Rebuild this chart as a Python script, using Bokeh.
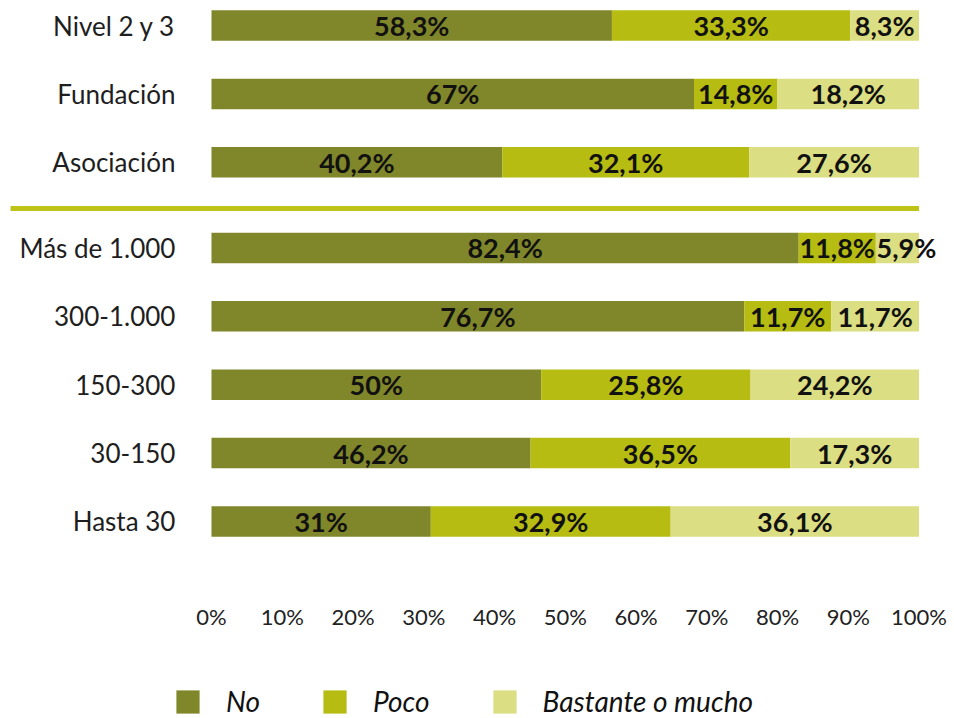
from bokeh.plotting import figure
from bokeh.layouts import column
from bokeh.models import (FactorRange, Range1d, FixedTicker, Legend, LegendItem,
                          ColumnDataSource)
from bokeh.core.properties import value
from bokeh.embed import file_html
from bokeh.resources import INLINE

# ---------------- data ----------------
group_top = ["Nivel 2 y 3", "Fundación", "Asociación"]
group_bottom = ["Más de 1.000", "300-1.000", "150-300", "30-150", "Hasta 30"]

# segment lengths as drawn in the picture (percent)
no_vals = [56.6, 68.2, 41.1, 83.0, 75.3, 46.6, 45.1, 31.0]
poco_vals = [33.7, 11.8, 34.9, 10.9, 12.3, 29.6, 36.7, 33.9]
bast_vals = [9.7, 20.0, 24.0, 6.1, 12.4, 23.8, 18.2, 35.1]

# printed labels
no_labels = ["58,3%", "67%", "40,2%", "82,4%", "76,7%", "50%", "46,2%", "31%"]
poco_labels = ["33,3%", "14,8%", "32,1%", "11,8%", "11,7%", "25,8%", "36,5%", "32,9%"]
bast_labels = ["8,3%", "18,2%", "27,6%", "5,9%", "11,7%", "24,2%", "17,3%", "36,1%"]

series_names = ["No", "Poco", "Bastante o mucho"]
tick_values = [0, 10, 20, 30, 40, 50, 60, 70, 80, 90, 100]
tick_labels = ["0%", "10%", "20%", "30%", "40%", "50%", "60%", "70%", "80%", "90%", "100%"]

# ---------------- style ----------------
colors = ["#80862a", "#b6bc12", "#dbde82"]
sep_color = "#bec318"
FONT = "Lato"
GROUP_GAP = 0.251
BAR_H = 0.446
LABEL_X = -5.1
SEP_X0 = -28.4
BAST_NUDGE_PX = [0, 0, 0, 9, 0, 0, 0, 0]   # keeps the narrow "5,9%" clear of "11,8%"

cats = [("a", c) for c in group_top] + [("b", c) for c in group_bottom]
names = group_top + group_bottom
factors = [("b", c) for c in reversed(group_bottom)] + [("a", c) for c in reversed(group_top)]

y_range = FactorRange(factors=factors, group_padding=GROUP_GAP, factor_padding=0.0,
                      range_padding=-0.1345, range_padding_units="absolute")

p = figure(frame_width=954, frame_height=546, y_range=y_range,
           x_range=Range1d(-29.82, 105.02), output_backend="svg",
           toolbar_location=None, min_border_left=0, min_border_right=0,
           min_border_top=0, min_border_bottom=104, outline_line_color=None)
p.grid.visible = False
p.yaxis.visible = False

left_poco = [a for a in no_vals]
left_bast = [a + b for a, b in zip(no_vals, poco_vals)]
right_bast = [a + b + c for a, b, c in zip(no_vals, poco_vals, bast_vals)]

src = ColumnDataSource(dict(
    y=cats, name=names,
    no_l=[0] * len(cats), no_r=no_vals,
    po_l=left_poco, po_r=left_bast,
    ba_l=left_bast, ba_r=right_bast,
    no_c=[v / 2 for v in no_vals],
    po_c=[l + v / 2 for l, v in zip(left_poco, poco_vals)],
    ba_c=[l + v / 2 for l, v in zip(left_bast, bast_vals)],
    no_t=no_labels, po_t=poco_labels, ba_t=bast_labels,
    no_dx=[0] * len(cats), po_dx=[0] * len(cats), ba_dx=BAST_NUDGE_PX,
    lab_x=[LABEL_X] * len(cats),
))

r_no = p.hbar(y="y", left="no_l", right="no_r", height=BAR_H, source=src,
              fill_color=colors[0], line_color=None)
r_po = p.hbar(y="y", left="po_l", right="po_r", height=BAR_H, source=src,
              fill_color=colors[1], line_color=None)
r_ba = p.hbar(y="y", left="ba_l", right="ba_r", height=BAR_H, source=src,
              fill_color=colors[2], line_color=None)

for xc, tc, dx in (("no_c", "no_t", "no_dx"), ("po_c", "po_t", "po_dx"),
                   ("ba_c", "ba_t", "ba_dx")):
    p.text(x=xc, y="y", text=tc, x_offset=dx, source=src, text_align="center",
           text_baseline="middle", text_font=value(FONT), text_font_style="bold",
           text_font_size="27px", text_color="#111111")

p.text(x="lab_x", y="y", text="name", source=src, text_align="right",
       text_baseline="middle", text_font=value(FONT), text_font_size="26px",
       text_color="#1e1e1e")

sep_y = len(group_bottom) + GROUP_GAP * 0.3
p.segment(x0=[SEP_X0], x1=[tick_values[-1]], y0=[sep_y], y1=[sep_y],
          line_color=sep_color, line_width=5)

xa = p.xaxis[0]
xa.ticker = FixedTicker(ticks=tick_values)
xa.major_label_overrides = {v: t for v, t in zip(tick_values, tick_labels)}
xa.axis_line_color = None
xa.major_tick_line_color = None
xa.minor_tick_line_color = None
xa.major_label_standoff = 50
xa.major_label_text_font = FONT
xa.major_label_text_font_size = "22px"
xa.major_label_text_color = "#222222"

# ---------------- legend strip ----------------
pl = figure(frame_width=954, frame_height=68, x_range=Range1d(0, 1),
            y_range=Range1d(0, 1), output_backend="svg", toolbar_location=None,
            min_border_left=0, min_border_right=0, min_border_top=0,
            min_border_bottom=0, outline_line_color=None)
pl.axis.visible = False
pl.grid.visible = False
# swatch renderers: one row each, kept outside the visible range
dummies = [pl.quad(left=[5], right=[6], top=[6], bottom=[5], fill_color=c, line_color=None)
           for c in colors]

legend = Legend(items=[LegendItem(label=n, renderers=[r]) for n, r in
                       zip(series_names, dummies)],
                orientation="horizontal", location=(173, 0),
                glyph_width=29, glyph_height=29, label_standoff=24, spacing=60,
                padding=0, margin=0, border_line_color=None,
                background_fill_alpha=0, label_text_font=FONT,
                label_text_font_style="italic", label_text_font_size="28px",
                label_text_color="#111111")
pl.add_layout(legend)

layout = column(p, pl, spacing=0)
open("out.html", "w").write(file_html(layout, INLINE))
